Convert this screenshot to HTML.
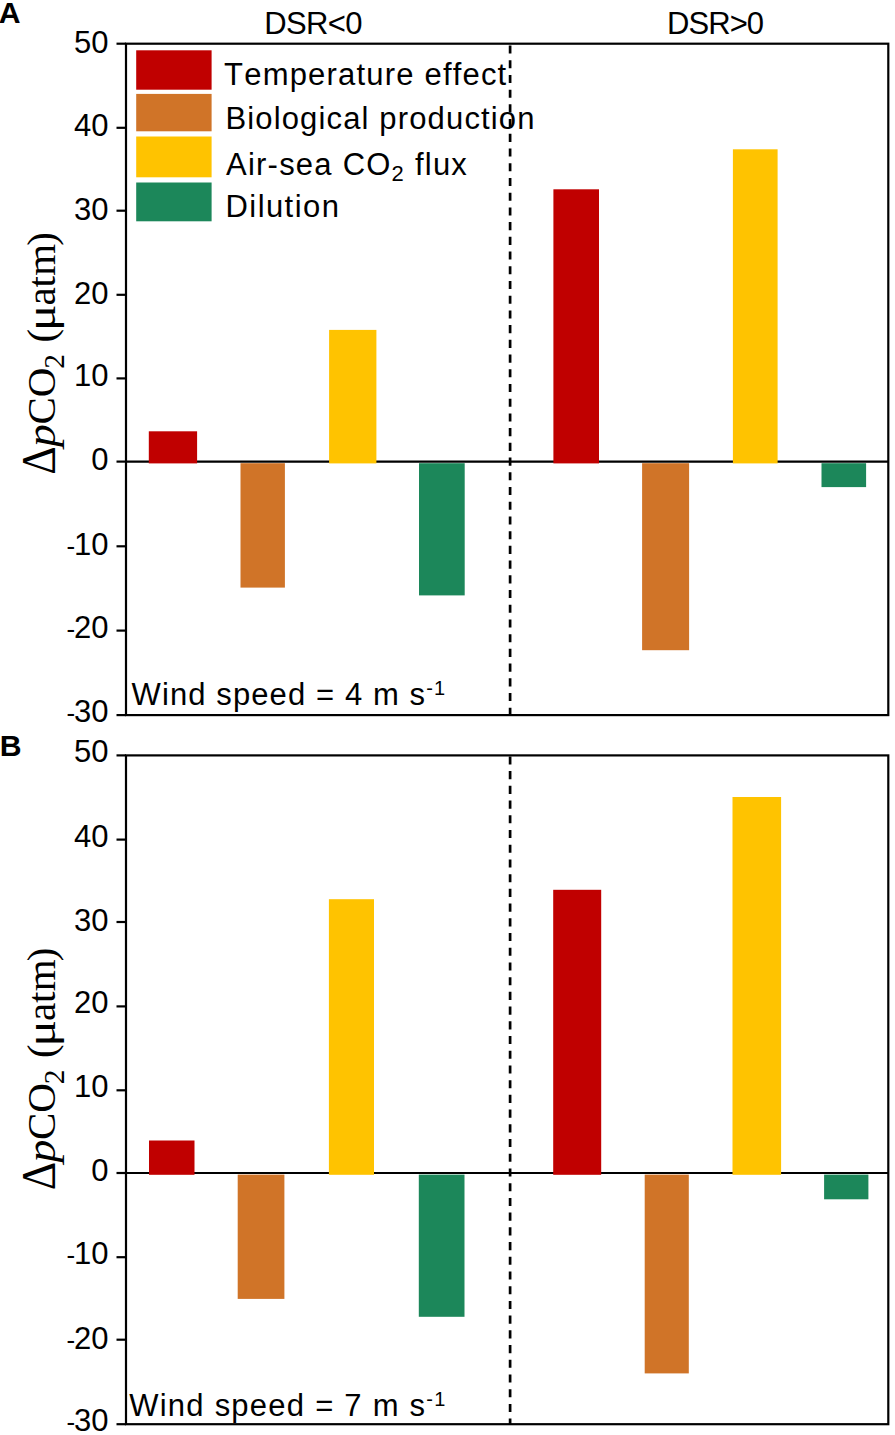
<!DOCTYPE html>
<html><head><meta charset="utf-8"><style>
html,body{margin:0;padding:0;background:#fff;width:895px;height:1435px;overflow:hidden}
svg{display:block}
text{font-kerning:none}
.t{font-family:"Liberation Sans", sans-serif;font-size:31px;fill:#000}
.b{font-family:"Liberation Sans", sans-serif;font-size:30.2px;font-weight:bold;fill:#000}
.yl{font-family:"Liberation Serif", serif;font-size:41px;fill:#000}
</style></head><body>
<svg width="895" height="1435" viewBox="0 0 895 1435">
<line x1="126.0" y1="461.6" x2="888.3" y2="461.6" stroke="#000" stroke-width="2.2"/>
<rect x="148.8" y="431.3" width="48.3" height="32.1" fill="#C00000"/>
<rect x="240.5" y="463.2" width="44.4" height="124.4" fill="#D07428"/>
<rect x="329.1" y="329.9" width="47.3" height="133.5" fill="#FFC300"/>
<rect x="419.0" y="463.2" width="45.7" height="132.2" fill="#1C875A"/>
<rect x="553.4" y="189.3" width="45.6" height="274.1" fill="#C00000"/>
<rect x="642.1" y="463.2" width="47.0" height="187.0" fill="#D07428"/>
<rect x="732.9" y="149.3" width="44.7" height="314.1" fill="#FFC300"/>
<rect x="821.5" y="463.2" width="44.6" height="23.9" fill="#1C875A"/>
<line x1="510.1" y1="43.7" x2="510.1" y2="715.1" stroke="#000" stroke-width="2.7" stroke-dasharray="8.1 6.616" stroke-dashoffset="-1.8"/>
<rect x="126.0" y="43.7" width="762.3" height="671.4" fill="none" stroke="#000" stroke-width="2.2"/>
<line x1="116.5" y1="43.7" x2="126.0" y2="43.7" stroke="#000" stroke-width="2.2"/>
<text x="108.5" y="53.2" text-anchor="end" class="t">50</text>
<line x1="116.5" y1="127.8" x2="126.0" y2="127.8" stroke="#000" stroke-width="2.2"/>
<text x="108.5" y="135.6" text-anchor="end" class="t">40</text>
<line x1="116.5" y1="210.7" x2="126.0" y2="210.7" stroke="#000" stroke-width="2.2"/>
<text x="108.5" y="219.8" text-anchor="end" class="t">30</text>
<line x1="116.5" y1="294.8" x2="126.0" y2="294.8" stroke="#000" stroke-width="2.2"/>
<text x="108.5" y="304.2" text-anchor="end" class="t">20</text>
<line x1="116.5" y1="378.4" x2="126.0" y2="378.4" stroke="#000" stroke-width="2.2"/>
<text x="108.5" y="386.2" text-anchor="end" class="t">10</text>
<line x1="116.5" y1="461.6" x2="126.0" y2="461.6" stroke="#000" stroke-width="2.2"/>
<text x="108.5" y="470.4" text-anchor="end" class="t">0</text>
<line x1="116.5" y1="546.3" x2="126.0" y2="546.3" stroke="#000" stroke-width="2.2"/>
<text x="108.5" y="555.1" text-anchor="end" class="t">10</text>
<text x="66.6" y="555.1" class="t" style="font-size:26px">-</text>
<line x1="116.5" y1="630.6" x2="126.0" y2="630.6" stroke="#000" stroke-width="2.2"/>
<text x="108.5" y="637.7" text-anchor="end" class="t">20</text>
<text x="66.6" y="637.7" class="t" style="font-size:26px">-</text>
<line x1="116.5" y1="715.1" x2="126.0" y2="715.1" stroke="#000" stroke-width="2.2"/>
<text x="108.5" y="721.5" text-anchor="end" class="t">30</text>
<text x="66.6" y="721.5" class="t" style="font-size:26px">-</text>
<text x="131.6" y="705.3" class="t" letter-spacing="1.1">Wind speed = 4 m s<tspan font-size="20" dy="-10.5">-1</tspan></text>
<g transform="translate(55.3,480.0) rotate(-90)" class="yl"><text x="5.2" y="0" font-size="48.5" textLength="28.5" lengthAdjust="spacingAndGlyphs">&#916;</text><text x="33.07" y="0" font-size="41" font-style="italic" textLength="22.76" lengthAdjust="spacingAndGlyphs">p</text><text x="55.5" y="0" font-size="41">C</text><text x="82.7" y="0" font-size="41">O</text><text x="111.2" y="8.6" font-size="29.5">2</text><text x="137.5" y="-0.4" font-size="41">(</text><text x="149.1" y="0" font-size="41" textLength="26.4" lengthAdjust="spacingAndGlyphs">&#956;</text><text x="174.5" y="0" font-size="41">a</text><text x="192.6" y="0" font-size="41">t</text><text x="204.2" y="0" font-size="41">m</text><text x="234.3" y="-0.4" font-size="41">)</text></g>
<line x1="126.0" y1="1173.0" x2="888.3" y2="1173.0" stroke="#000" stroke-width="2.2"/>
<rect x="149.0" y="1140.5" width="45.5" height="34.3" fill="#C00000"/>
<rect x="237.7" y="1174.6" width="46.7" height="124.3" fill="#D07428"/>
<rect x="328.9" y="899.2" width="45.1" height="275.6" fill="#FFC300"/>
<rect x="418.8" y="1174.6" width="45.7" height="142.2" fill="#1C875A"/>
<rect x="553.2" y="889.8" width="48.0" height="285.0" fill="#C00000"/>
<rect x="644.7" y="1174.6" width="44.1" height="198.8" fill="#D07428"/>
<rect x="732.5" y="797.0" width="48.6" height="377.8" fill="#FFC300"/>
<rect x="824.1" y="1174.6" width="44.3" height="24.7" fill="#1C875A"/>
<line x1="510.1" y1="755.4" x2="510.1" y2="1424.2" stroke="#000" stroke-width="2.7" stroke-dasharray="8.1 6.616" stroke-dashoffset="-1.0"/>
<rect x="126.0" y="755.4" width="762.3" height="668.8" fill="none" stroke="#000" stroke-width="2.2"/>
<line x1="116.5" y1="755.4" x2="126.0" y2="755.4" stroke="#000" stroke-width="2.2"/>
<text x="108.5" y="761.9" text-anchor="end" class="t">50</text>
<line x1="116.5" y1="839.6" x2="126.0" y2="839.6" stroke="#000" stroke-width="2.2"/>
<text x="108.5" y="846.6" text-anchor="end" class="t">40</text>
<line x1="116.5" y1="922.0" x2="126.0" y2="922.0" stroke="#000" stroke-width="2.2"/>
<text x="108.5" y="930.5" text-anchor="end" class="t">30</text>
<line x1="116.5" y1="1006.4" x2="126.0" y2="1006.4" stroke="#000" stroke-width="2.2"/>
<text x="108.5" y="1012.9" text-anchor="end" class="t">20</text>
<line x1="116.5" y1="1090.3" x2="126.0" y2="1090.3" stroke="#000" stroke-width="2.2"/>
<text x="108.5" y="1097.4" text-anchor="end" class="t">10</text>
<line x1="116.5" y1="1173.0" x2="126.0" y2="1173.0" stroke="#000" stroke-width="2.2"/>
<text x="108.5" y="1181.3" text-anchor="end" class="t">0</text>
<line x1="116.5" y1="1257.2" x2="126.0" y2="1257.2" stroke="#000" stroke-width="2.2"/>
<text x="108.5" y="1264.2" text-anchor="end" class="t">10</text>
<text x="66.6" y="1264.2" class="t" style="font-size:26px">-</text>
<line x1="116.5" y1="1339.7" x2="126.0" y2="1339.7" stroke="#000" stroke-width="2.2"/>
<text x="108.5" y="1348.7" text-anchor="end" class="t">20</text>
<text x="66.6" y="1348.7" class="t" style="font-size:26px">-</text>
<line x1="116.5" y1="1424.2" x2="126.0" y2="1424.2" stroke="#000" stroke-width="2.2"/>
<text x="108.5" y="1430.7" text-anchor="end" class="t">30</text>
<text x="66.6" y="1430.7" class="t" style="font-size:26px">-</text>
<text x="129.2" y="1416.3" class="t" letter-spacing="1.24">Wind speed = 7 m s<tspan font-size="20" dy="-10.5">-1</tspan></text>
<g transform="translate(55.3,1195.5) rotate(-90)" class="yl"><text x="5.2" y="0" font-size="48.5" textLength="28.5" lengthAdjust="spacingAndGlyphs">&#916;</text><text x="33.07" y="0" font-size="41" font-style="italic" textLength="22.76" lengthAdjust="spacingAndGlyphs">p</text><text x="55.5" y="0" font-size="41">C</text><text x="82.7" y="0" font-size="41">O</text><text x="111.2" y="8.6" font-size="29.5">2</text><text x="137.5" y="-0.4" font-size="41">(</text><text x="149.1" y="0" font-size="41" textLength="26.4" lengthAdjust="spacingAndGlyphs">&#956;</text><text x="174.5" y="0" font-size="41">a</text><text x="192.6" y="0" font-size="41">t</text><text x="204.2" y="0" font-size="41">m</text><text x="234.3" y="-0.4" font-size="41">)</text></g>
<rect x="136.2" y="50.3" width="75.4" height="39.4" fill="#C00000"/>
<rect x="136.2" y="93.9" width="75.4" height="37.4" fill="#D07428"/>
<rect x="136.2" y="136.5" width="75.4" height="40.8" fill="#FFC300"/>
<rect x="136.2" y="182.5" width="75.4" height="38.8" fill="#1C875A"/>
<text x="224.1" y="84.8" class="t" letter-spacing="1.19">Temperature effect</text>
<text x="225.4" y="128.7" class="t" letter-spacing="1.15">Biological production</text>
<text x="226" y="174.9" class="t" letter-spacing="1.23">Air-sea CO<tspan font-size="22" dy="6">2</tspan><tspan dy="-6"> flux</tspan></text>
<text x="225.5" y="217.0" class="t" letter-spacing="1.43">Dilution</text>
<text x="264.2" y="34.1" class="t" letter-spacing="-0.6">DSR&lt;0</text>
<text x="667.1" y="34.1" class="t" letter-spacing="-0.95">DSR&gt;0</text>
<text x="-1.2" y="23.4" class="b">A</text>
<text x="-0.2" y="756" class="b">B</text>
</svg>
</body></html>
